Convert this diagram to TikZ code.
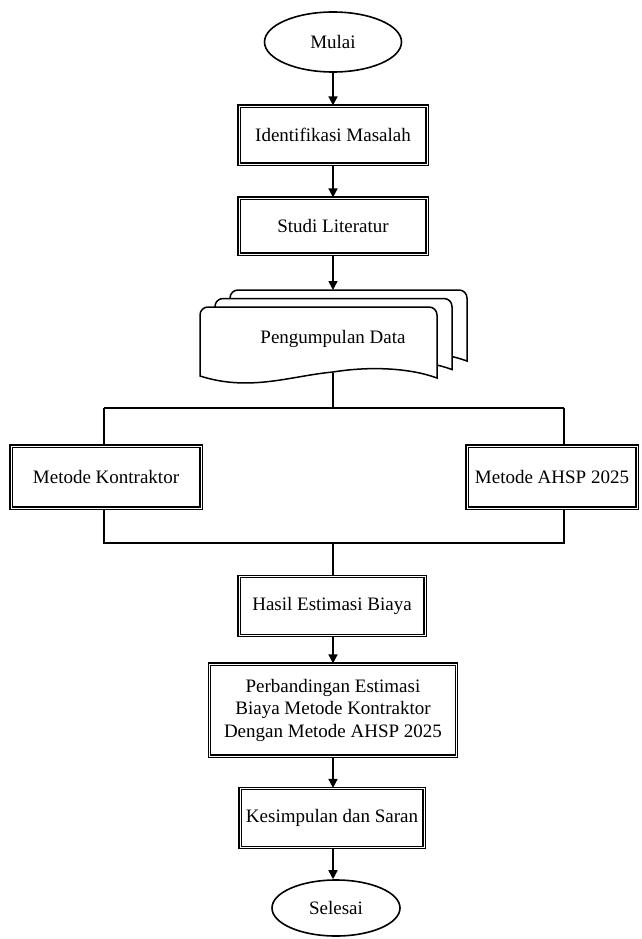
\documentclass[tikz,border=0pt]{standalone}
\usepackage{fontspec}
\setmainfont{Liberation Serif}
\usetikzlibrary{shapes.geometric,arrows.meta}
\begin{document}
\begin{tikzpicture}[x=1pt,y=-1pt,
  every node/.style={font=\fontsize{19}{22.5}\selectfont, align=center, inner sep=2pt},
  procbox/.style={rectangle, draw=black, double, line width=1.2pt, double distance=0.9pt, fill=white},
  termnode/.style={ellipse, draw=black, line width=1.6pt, fill=white},
  docshape/.style={draw=black, line width=1.5pt, fill=white},
  conn/.style={draw=black, line width=1.6pt},
  arr/.style={conn, -{Triangle[length=9pt,width=9pt]}}
]
\useasboundingbox (0,0) rectangle (641,939);

% terminators and boxes
\node[termnode, minimum width=137pt, minimum height=60pt] (mulai) at (333,42) {Mulai};
\node[procbox, minimum width=188pt, minimum height=58pt] (idm) at (333,135) {Identifikasi Masalah};
\node[procbox, minimum width=188pt, minimum height=56pt] (studi) at (333,226) {Studi Literatur};

% multi-document shape
\foreach \dx/\dy in {30/-17, 15/-8.5, 0/0}{
  \begin{scope}[shift={(\dx,\dy)}]
    \path[docshape] [rounded corners=8pt] (200,376) -- (200,307) -- (437,307) [sharp corners] -- (437,378)
      .. controls (410,368) and (370,366) .. (333,372)
      .. controls (290,376) and (250,392) .. (200,376) -- cycle;
  \end{scope}
}
\node (pd) at (333,339) {Pengumpulan Data};
\coordinate (pdtop) at (333,290);
\coordinate (pdbot) at (333,373);
\coordinate (split) at (333,408);
\coordinate (splitL) at (104,408);
\coordinate (splitR) at (564,408);

\node[procbox, minimum width=190pt, minimum height=62pt] (mk) at (106,477) {Metode Kontraktor};
\node[procbox, minimum width=170pt, minimum height=62pt] (ahsp) at (552,477) {Metode AHSP 2025};

\coordinate (joinL) at (104,543);
\coordinate (joinR) at (564,543);
\coordinate (join) at (333,543);

\node[procbox, minimum width=186pt, minimum height=59pt] (hasil) at (332,606) {Hasil Estimasi Biaya};
\node[procbox, minimum width=247pt, minimum height=92pt] (perb) at (333,710) {Perbandingan Estimasi\\Biaya Metode Kontraktor\\Dengan Metode AHSP 2025};
\node[procbox, minimum width=184pt, minimum height=59pt] (kes) at (332,818) {Kesimpulan dan Saran};
\node[termnode, minimum width=128pt, minimum height=56pt] (selesai) at (336,908) {Selesai};

% connectors
\draw[arr] (mulai.south) -- (idm.north);
\draw[arr] (idm.south) -- (studi.north);
\draw[arr] (studi.south) -- (pdtop);
\draw[conn] (pdbot) -- (split);
\draw[conn] (splitL) -- (splitR);
\draw[conn] (splitL) -- (splitL |- mk.north);
\draw[conn] (splitR) -- (splitR |- ahsp.north);
\draw[conn] (splitL |- mk.south) -- (joinL) -- (joinR) -- (splitR |- ahsp.south);
\draw[conn] (join) -- (join |- hasil.north);
\draw[arr] (join |- hasil.south) -- (join |- perb.north);
\draw[arr] (join |- perb.south) -- (join |- kes.north);
\draw[arr] (join |- kes.south) -- (join |- selesai.north);
\end{tikzpicture}
\end{document}
